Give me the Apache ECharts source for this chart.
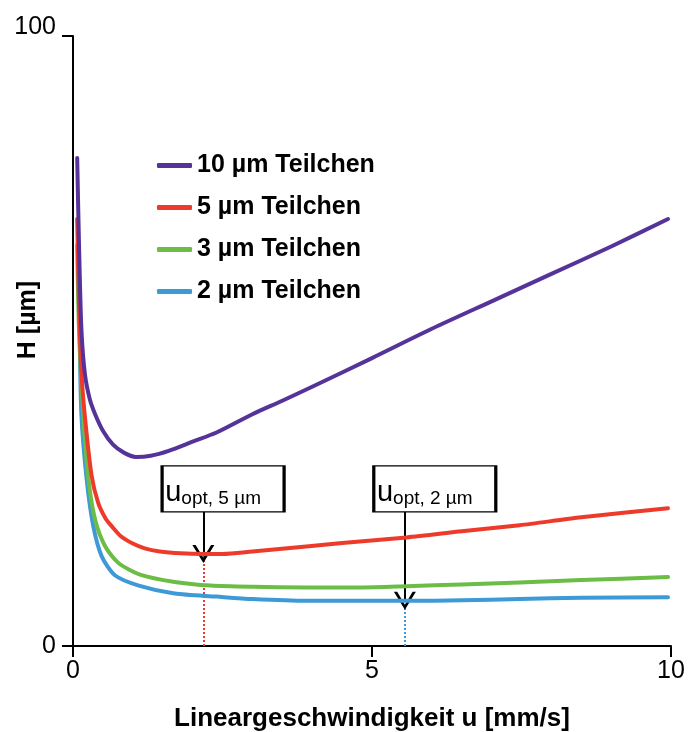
<!DOCTYPE html>
<html>
<head>
<meta charset="utf-8">
<script src="https://cdn.jsdelivr.net/npm/echarts@6/dist/echarts.min.js"></script>
<style>
html,body{margin:0;padding:0;background:#fff;}
#chart{width:690px;height:732px;}
</style>
</head>
<body>
<div id="chart"></div>
<script>
// ---- data ----
const seriesNames = ['10 µm Teilchen', '5 µm Teilchen', '3 µm Teilchen', '2 µm Teilchen'];

const u10 = [0.07, 0.1, 0.14, 0.2, 0.28, 0.37, 0.5, 0.67, 0.85, 1.05, 1.3, 1.6, 2.0, 2.4, 3.0, 3.5, 4.0, 5.0, 6.0, 7.0, 8.0, 9.0, 9.95];
const h10 = [80, 66, 52, 44.5, 40.5, 38, 35.3, 33, 31.7, 31.0, 31.2, 32, 33.5, 35, 38, 40.2, 42.5, 47.2, 52, 56.5, 61, 65.5, 70];

const u5 = [0.07, 0.1, 0.14, 0.2, 0.31, 0.42, 0.55, 0.65, 0.8, 1.0, 1.2, 1.45, 1.8, 2.18, 2.5, 3.0, 3.9, 4.5, 5.58, 6.5, 7.47, 8.5, 9.95];
const h5 = [70, 56, 45, 37.5, 28, 23.5, 20.8, 19.6, 18, 16.8, 16, 15.5, 15.2, 15.1, 15.1, 15.5, 16.3, 16.9, 17.8, 18.8, 19.8, 21.1, 22.6];

const u3 = [0.07, 0.1, 0.17, 0.26, 0.37, 0.54, 0.76, 1.12, 1.7, 2.3, 3.0, 3.9, 4.8, 5.58, 6.5, 7.47, 8.5, 9.95];
const h3 = [65.7, 52, 38, 27.2, 20.7, 16.3, 13.6, 11.7, 10.5, 9.9, 9.7, 9.6, 9.6, 9.8, 10.1, 10.4, 10.8, 11.3];

const u2 = [0.09, 0.11, 0.14, 0.23, 0.34, 0.48, 0.7, 1.1, 1.7, 2.4, 3.0, 3.9, 4.8, 5.58, 6.5, 7.47, 8.5, 9.95];
const h2 = [64.4, 52, 38, 27.2, 19.6, 14.7, 11.6, 9.9, 8.6, 8.1, 7.7, 7.4, 7.4, 7.4, 7.5, 7.7, 7.9, 8.0];

const xTicks = [0, 5, 10];
const yTicks = [0, 100];

// optimum annotations
const uOpt = [2.18, 5.55];
const hOpt = [15.1, 7.4];
const boxLabels = ['opt, 5 µm', 'opt, 2 µm'];
const boxCenterU = [2.51, 6.05];
const boxCenterH = 25.75;
const boxBottomH = 22;

const colors = ['#553399', '#ee3a2a', '#6cbd45', '#3d9ad6'];

const sans = '"Liberation Sans", Arial, sans-serif';

function pairs(xs, ys) { return xs.map((x, i) => [x, ys[i]]); }

const vArrow = 'path://M10,0 L20,16 L17,16 L10,4.6 L3,16 L0,16 Z';

function arrowLine(i) {
  return [{ coord: [uOpt[i], boxBottomH], symbol: 'none' },
          { coord: [uOpt[i], hOpt[i]], symbol: vArrow, symbolSize: [22, 18] }];
}
function dottedLine(i, c) {
  return [{ coord: [uOpt[i], 0], symbol: 'none', lineStyle: { type: 'dotted', color: c, width: 2 } },
          { coord: [uOpt[i], hOpt[i]], symbol: 'none' }];
}
function boxPoint(i) {
  return {
    coord: [boxCenterU[i], boxCenterH],
    symbol: 'rect', symbolSize: [122, 46],
    itemStyle: { color: '#fff', borderColor: '#000', borderWidth: 2 },
    label: {
      show: true, position: 'inside', offset: [-10, -1],
      formatter: '{u|u}{s|' + boxLabels[i] + '}',
      rich: {
        u: { fontFamily: sans, fontSize: 29, color: '#000', lineHeight: 40, verticalAlign: 'bottom' },
        s: { fontFamily: sans, fontSize: 19, color: '#000', lineHeight: 16, verticalAlign: 'bottom' }
      }
    }
  };
}

const lineData = [pairs(u10, h10), pairs(u5, h5), pairs(u3, h3), pairs(u2, h2)];

const series = lineData.map((d, i) => ({
  name: seriesNames[i],
  type: 'line',
  data: d,
  showSymbol: false,
  smooth: 0.25,
  lineStyle: { width: 4, color: colors[i], cap: 'round', join: 'round' },
  itemStyle: { color: colors[i] },
  z: 10 - i
}));

series[1].markLine = {
  silent: true, animation: false, label: { show: false },
  lineStyle: { color: '#000', width: 2, type: 'solid' },
  data: [dottedLine(0, colors[1]), arrowLine(0)]
};
series[1].markPoint = { silent: true, animation: false, data: [boxPoint(0)] };
series[3].markLine = {
  silent: true, animation: false, label: { show: false },
  lineStyle: { color: '#000', width: 2, type: 'solid' },
  data: [dottedLine(1, colors[3]), arrowLine(1)]
};
series[3].markPoint = { silent: true, animation: false, data: [boxPoint(1)] };

const chart = echarts.init(document.getElementById('chart'), null, { renderer: 'canvas' });
chart.setOption({
  animation: false,
  backgroundColor: '#fff',
  grid: { left: 73, right: 19, top: 36, bottom: 86, containLabel: false, outerBoundsMode: 'none' },
  legend: {
    orient: 'vertical', left: 152, top: 146,
    icon: 'roundRect', itemWidth: 35, itemHeight: 5, itemGap: 13, itemTextGap: 6,
    data: seriesNames,
    textStyle: { fontFamily: sans, fontWeight: 'bold', fontSize: 25, color: '#000', lineHeight: 29 }
  },
  xAxis: {
    type: 'value', min: xTicks[0], max: xTicks[xTicks.length - 1], interval: 5,
    name: 'Lineargeschwindigkeit u [mm/s]', nameLocation: 'middle', nameGap: 60,
    nameTextStyle: { fontFamily: sans, fontWeight: 'bold', fontSize: 26, color: '#000' },
    axisLine: { lineStyle: { color: '#000', width: 2 } },
    axisTick: { show: true, length: 11, lineStyle: { color: '#000', width: 2 } },
    axisLabel: { fontFamily: sans, fontSize: 25, color: '#000', margin: 13,
      formatter: v => xTicks.includes(v) ? String(v) : '' },
    splitLine: { show: false }
  },
  yAxis: {
    type: 'value', min: yTicks[0], max: yTicks[1], interval: 100,
    name: 'H [µm]', nameLocation: 'middle', nameGap: 32, nameRotate: 90, nameMoveOverlap: false,
    nameTextStyle: { fontFamily: sans, fontWeight: 'bold', fontSize: 25, color: '#000', padding: [0, 0, 0, 42] },
    axisLine: { show: true, lineStyle: { color: '#000', width: 2 } },
    axisTick: { show: true, length: 11, lineStyle: { color: '#000', width: 2 } },
    axisLabel: { fontFamily: sans, fontSize: 25, color: '#000', margin: 17,
      formatter: v => v === yTicks[1] ? '{top|' + v + '}' : String(v),
      rich: { top: { fontFamily: sans, fontSize: 25, color: '#000', padding: [0, 0, 18, 0] } } },
    splitLine: { show: false }
  },
  series: series
});
</script>
</body>
</html>
